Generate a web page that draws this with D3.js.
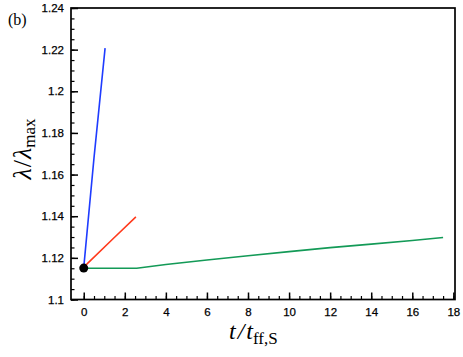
<!DOCTYPE html>
<html>
<head>
<meta charset="utf-8">
<script src="https://cdn.jsdelivr.net/npm/d3@7"></script>
<style>
  body { margin: 0; background: #fff; }
  .tick text { font-family: "Liberation Sans", Arial, sans-serif; font-size: 11.5px; fill: #000; stroke: #000; stroke-width: 0.25px; }
</style>
</head>
<body>
<svg id="canvas" width="463" height="357"></svg>
<script>
// values
let blueT = [0, 0.5, 1.04];
let blueY = [1.1153, 1.168, 1.2207];

let redT = [0, 0.2, 1.44, 2.54];
let redY = [1.1153, 1.1175, 1.1293, 1.1397];

let greenT = [0, 2.58, 4, 6, 8, 10, 12, 14, 16, 17.5];
let greenY = [1.115, 1.115, 1.1168, 1.119, 1.1210, 1.1230, 1.1249, 1.1266, 1.1283, 1.1298];

let startPoint = [0, 1.1151];

let xTicks = [0, 2, 4, 6, 8, 10, 12, 14, 16, 18];
let yTicks = [1.1, 1.12, 1.14, 1.16, 1.18, 1.2, 1.22, 1.24];

let canvas = d3.select('#canvas');

let plotLeft = 71, plotRight = 455, plotTop = 8, plotBottom = 299.5;

let xScale = d3.scaleLinear().domain([-0.62, 18.08]).range([plotLeft, plotRight]);
let yScale = d3.scaleLinear().domain([1.1, 1.24]).range([plotBottom, plotTop]);

// minor ticks first
let xMinor = d3.range(0, 18.01, 0.5);
let yMinor = d3.range(1.1, 1.2401, 0.005);

canvas.append('g')
    .attr('transform', 'translate(0,' + plotBottom + ')')
    .call(d3.axisBottom(xScale).tickValues(xMinor).tickSize(-3.5).tickFormat(''))
    .call(g => g.select('.domain').remove())
    .selectAll('line').attr('stroke-width', 1.2);

canvas.append('g')
    .attr('transform', 'translate(' + plotLeft + ',0)')
    .call(d3.axisLeft(yScale).tickValues(yMinor).tickSize(-3.5).tickFormat(''))
    .call(g => g.select('.domain').remove())
    .selectAll('line').attr('stroke-width', 1.2);

// major ticks + labels
let xAxis = canvas.append('g')
    .attr('transform', 'translate(0,' + plotBottom + ')')
    .call(d3.axisBottom(xScale).tickValues(xTicks).tickSize(-7).tickPadding(8).tickFormat(d3.format('d')));
xAxis.select('.domain').remove();
xAxis.selectAll('line').attr('stroke-width', 1.5);

let yAxis = canvas.append('g')
    .attr('transform', 'translate(' + plotLeft + ',0)')
    .call(d3.axisLeft(yScale).tickValues(yTicks).tickSize(-7).tickPadding(7).tickFormat(d => String(+d.toFixed(2))));
yAxis.select('.domain').remove();
yAxis.selectAll('line').attr('stroke-width', 1.5);

// frame
canvas.append('rect')
    .attr('x', plotLeft).attr('y', plotTop)
    .attr('width', plotRight - plotLeft).attr('height', plotBottom - plotTop)
    .attr('fill', 'none').attr('stroke', '#000').attr('stroke-width', 1.7);

let line = d3.line()
    .x(d => xScale(d[0]))
    .y(d => yScale(d[1]));

let series = [
    { t: greenT, y: greenY, color: '#139a57' },
    { t: redT, y: redY, color: '#ff3a1c' },
    { t: blueT, y: blueY, color: '#1f3cff' }
];

series.forEach(s => {
    canvas.append('path')
        .datum(s.t.map((t, i) => [t, s.y[i]]))
        .attr('d', line)
        .attr('fill', 'none')
        .attr('stroke', s.color)
        .attr('stroke-width', 1.6);
});

canvas.append('circle')
    .attr('cx', xScale(startPoint[0]))
    .attr('cy', yScale(startPoint[1]))
    .attr('r', 4.5)
    .attr('fill', '#000');

// panel tag
canvas.append('text')
    .attr('x', 8).attr('y', 25)
    .style('font-family', '"Liberation Serif", "DejaVu Serif", serif')
    .style('font-size', '16px')
    .text('(b)');

// y label
let yLabel = canvas.append('text')
    .attr('transform', 'translate(31,149) rotate(-90)')
    .attr('text-anchor', 'middle')
    .style('font-family', '"Liberation Serif", "DejaVu Serif", serif')
    .style('font-size', '26px');
yLabel.append('tspan').style('font-style', 'italic').text('λ');
yLabel.append('tspan').attr('dx', 1).text('/');
yLabel.append('tspan').attr('dx', 1).style('font-style', 'italic').text('λ');
yLabel.append('tspan').attr('dy', 4).style('font-size', '17px').text('max');

// x label
let xLabel = canvas.append('text')
    .attr('x', 229).attr('y', 339)
    .style('font-family', '"Liberation Serif", "DejaVu Serif", serif')
    .style('font-size', '24px');
xLabel.append('tspan').style('font-style', 'italic').text('t');
xLabel.append('tspan').attr('dx', 2).style('font-style', 'italic').text('/');
xLabel.append('tspan').attr('dx', 2).style('font-style', 'italic').text('t');
xLabel.append('tspan').attr('dy', 5).style('font-size', '17px').text('ff,S');
</script>
</body>
</html>
